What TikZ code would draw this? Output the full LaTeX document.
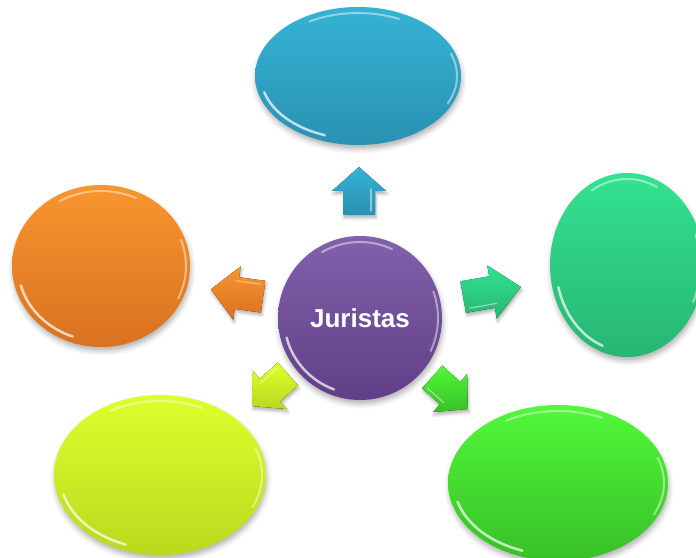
\documentclass[tikz,border=0pt]{standalone}
\usepackage{fontspec}
\newfontfamily\labelfont{Liberation Sans}
\usetikzlibrary{shapes.geometric,shadows.blur,calc}
\definecolor{blueT}{HTML}{35B3D5}
\definecolor{blueB}{HTML}{2A91B1}
\definecolor{orangeT}{HTML}{F8962F}
\definecolor{orangeB}{HTML}{D97120}
\definecolor{tealT}{HTML}{33E291}
\definecolor{tealB}{HTML}{27B672}
\definecolor{yellowT}{HTML}{DEFF2C}
\definecolor{yellowB}{HTML}{BBD81E}
\definecolor{greenT}{HTML}{52F839}
\definecolor{greenB}{HTML}{37C027}
\definecolor{purpleT}{HTML}{8161AB}
\definecolor{purpleB}{HTML}{613F88}
\tikzset{
  bubble/.style={ellipse, inner sep=0pt,
    blur shadow={shadow xshift=1pt, shadow yshift=-4pt, shadow blur radius=5pt, shadow opacity=30}},
  glint/.style={white, line width=2.5pt, opacity=0.7, line cap=round},
  softglint/.style={white, line width=2pt, opacity=0.45, line cap=round},
  arrowshadow/.style={blur shadow={shadow xshift=1pt, shadow yshift=-3pt, shadow blur radius=3pt, shadow opacity=30}},
  labeltext/.style={text=white, font=\labelfont\bfseries\fontsize{26}{30}\selectfont}
}
\newcommand\shine[3]{%
  \draw[glint] ([shift={(195:{#2-6} and {#3-6})}]#1.center)
     arc[start angle=195, end angle=250, x radius={#2-6}, y radius={#3-6}];
  \draw[softglint] ([shift={(65:{#2-6} and {#3-6})}]#1.center)
     arc[start angle=65, end angle=120, x radius={#2-6}, y radius={#3-6}];
  \draw[softglint] ([shift={(-25:{#2-4} and {#3-4})}]#1.center)
     arc[start angle=-25, end angle=20, x radius={#2-4}, y radius={#3-4}];
}
% #1 x, #2 y, #3 angle, #4 length scale, #5 width scale, #6 top colour, #7 bottom colour
\newcommand\blockarrow[7]{%
  \fill[top color=#6, bottom color=#7, arrowshadow]
    [shift={(#1,#2)}, rotate=#3, xscale=#4, yscale=#5]
    (-24,-16) -- (0,-16) -- (0,-27) -- (24,0) -- (0,27) -- (0,16) -- (-24,16) -- cycle;
  \draw[white, opacity=0.45, line width=1.2pt, line cap=round]
    [shift={(#1,#2)}, rotate=#3, xscale=#4, yscale=#5]
    (-20,-12) -- (2,-12);
}
\begin{document}
\begin{tikzpicture}[x=1pt,y=1pt]
\useasboundingbox (0,0) rectangle (696,557);
% outer bubbles
\node[bubble, minimum width=206pt, minimum height=138pt, top color=blueT, bottom color=blueB] (topb) at (358,481) {};
\node[bubble, minimum width=178pt, minimum height=162pt, top color=orangeT, bottom color=orangeB] (leftb) at (101,291) {};
\node[bubble, minimum width=154pt, minimum height=184pt, top color=tealT, bottom color=tealB] (rightb) at (627,292) {};
\node[bubble, minimum width=212pt, minimum height=160pt, top color=yellowT, bottom color=yellowB] (blb) at (160,82) {};
\node[bubble, minimum width=220pt, minimum height=156pt, top color=greenT, bottom color=greenB] (brb) at (558,74) {};
% central bubble
\node[bubble, minimum width=164pt, minimum height=164pt, top color=purpleT, bottom color=purpleB] (center) at (360,239) {};
\node[labeltext] (lbl) at (center.center) {Juristas};
\shine{topb}{103}{69}
\shine{leftb}{89}{81}
\shine{rightb}{77}{92}
\shine{blb}{106}{80}
\shine{brb}{110}{78}
\shine{center}{82}{82}
% block arrows
\blockarrow{359}{366}{90}{1}{1}{blueT}{blueB}
\blockarrow{237}{264}{172}{1.1}{1}{orangeT}{orangeB}
\blockarrow{492}{265}{10}{1.22}{1}{tealT}{tealB}
\blockarrow{270}{167}{222}{1.0}{0.95}{yellowT}{yellowB}
\blockarrow{450}{164}{-42}{1.0}{0.95}{greenT}{greenB}
\end{tikzpicture}
\end{document}
